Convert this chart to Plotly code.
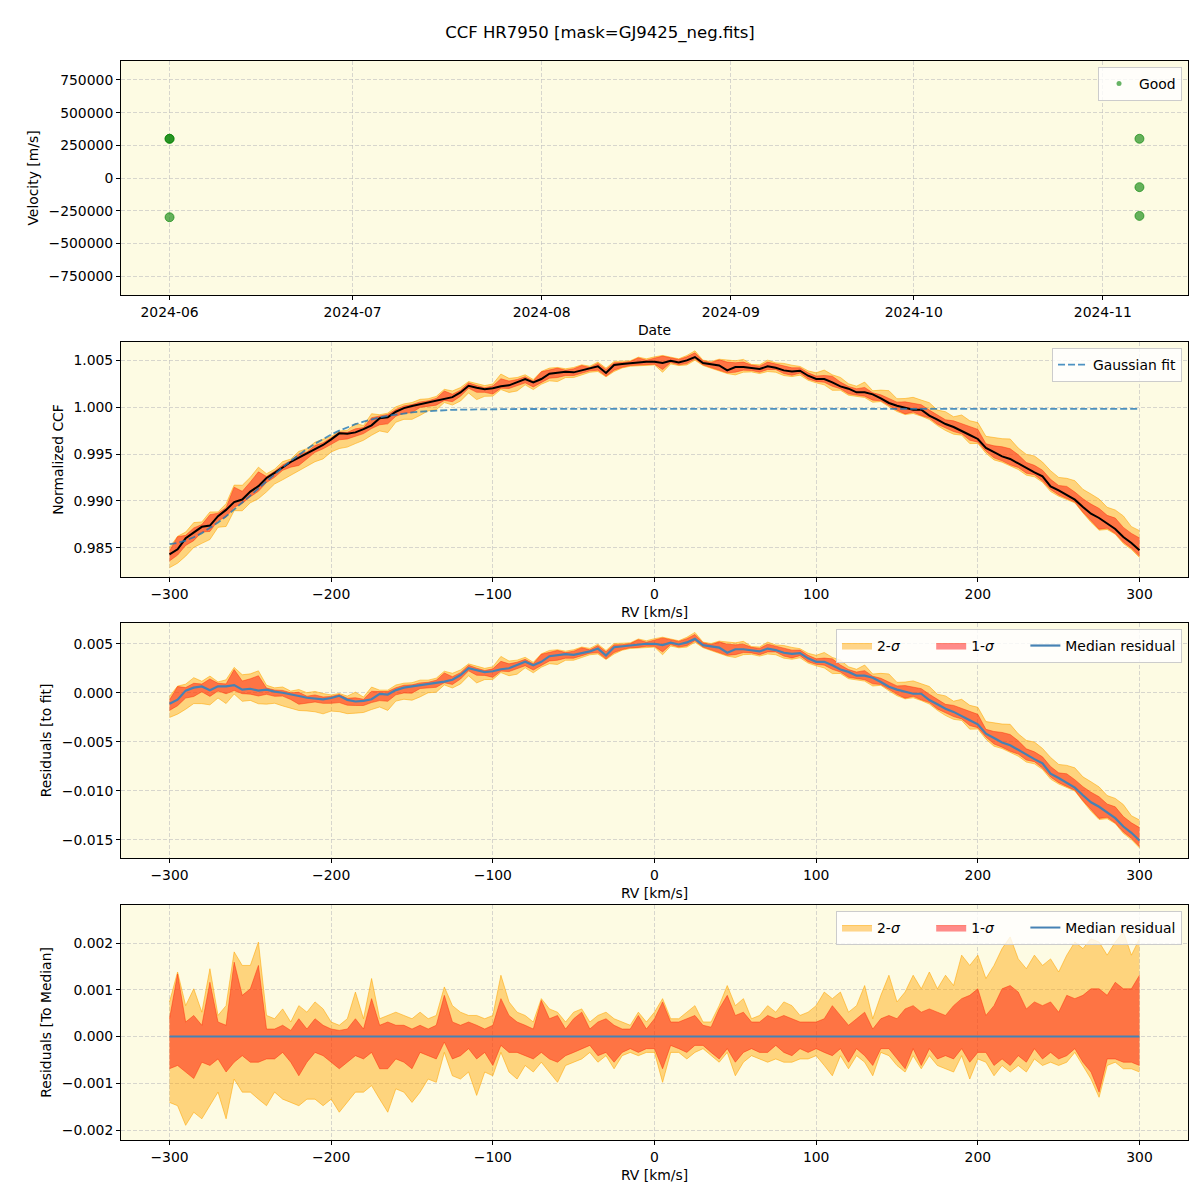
import plotly.graph_objects as go

# ---------------- data ----------------
rv = list(range(-300, 301, 5))

ccf_median = [
    0.98431, 0.98486, 0.98603, 0.98668, 0.98725, 0.98738, 0.98839, 0.98905, 0.98988, 0.99015,
    0.99100, 0.99158, 0.99245, 0.99300, 0.99360, 0.99415, 0.99462, 0.99505, 0.99552, 0.99596,
    0.99656, 0.99720, 0.99715, 0.99730, 0.99765, 0.99805, 0.99880, 0.99890, 0.99950, 0.99988,
    1.00010, 1.00030, 1.00050, 1.00068, 1.00082, 1.00105, 1.00155, 1.00226, 1.00205, 1.00190,
    1.00200, 1.00220, 1.00231, 1.00262, 1.00298, 1.00262, 1.00298, 1.00355, 1.00369, 1.00376,
    1.00369, 1.00390, 1.00404, 1.00433, 1.00362, 1.00447, 1.00457, 1.00468, 1.00479, 1.00482,
    1.00482, 1.00468, 1.00493, 1.00475, 1.00496, 1.00532, 1.00468, 1.00454, 1.00443, 1.00390,
    1.00426, 1.00426, 1.00415, 1.00404, 1.00433, 1.00418, 1.00390, 1.00379, 1.00387, 1.00333,
    1.00298, 1.00298, 1.00262, 1.00220, 1.00195, 1.00156, 1.00156, 1.00135, 1.00092, 1.00043,
    1.00014, 0.99996, 0.99972, 0.99972, 0.99908, 0.99865, 0.99819, 0.99787, 0.99741, 0.99702,
    0.99660, 0.99564, 0.99521, 0.99475, 0.99447, 0.99397, 0.99351, 0.99305, 0.99262, 0.99156,
    0.99113, 0.99067, 0.99014, 0.98936, 0.98865, 0.98819, 0.98759, 0.98702, 0.98617, 0.98553,
    0.98475,
]

gauss_fit = [
    0.98540, 0.98554, 0.98579, 0.98614, 0.98658, 0.98711, 0.98771, 0.98837, 0.98908, 0.98981,
    0.99057, 0.99134, 0.99211, 0.99286, 0.99358, 0.99427, 0.99493, 0.99554, 0.99610, 0.99661,
    0.99707, 0.99749, 0.99785, 0.99817, 0.99845, 0.99869, 0.99889, 0.99906, 0.99921, 0.99933,
    0.99943, 0.99951, 0.99957, 0.99962, 0.99966, 0.99970, 0.99972, 0.99974, 0.99976, 0.99977,
    0.99978, 0.99978, 0.99979, 0.99979, 0.99979, 0.99980, 0.99980, 0.99980, 0.99980, 0.99980,
    0.99980, 0.99980, 0.99980, 0.99980, 0.99980, 0.99980, 0.99980, 0.99980, 0.99980, 0.99980,
    0.99980, 0.99980, 0.99980, 0.99980, 0.99980, 0.99980, 0.99980, 0.99980, 0.99980, 0.99980,
    0.99980, 0.99980, 0.99980, 0.99980, 0.99980, 0.99980, 0.99980, 0.99980, 0.99980, 0.99980,
    0.99980, 0.99980, 0.99980, 0.99980, 0.99980, 0.99980, 0.99980, 0.99980, 0.99980, 0.99980,
    0.99980, 0.99980, 0.99980, 0.99980, 0.99980, 0.99980, 0.99980, 0.99980, 0.99980, 0.99980,
    0.99980, 0.99980, 0.99980, 0.99980, 0.99980, 0.99980, 0.99980, 0.99980, 0.99980, 0.99980,
    0.99980, 0.99980, 0.99980, 0.99980, 0.99980, 0.99980, 0.99980, 0.99980, 0.99980, 0.99980,
    0.99980,
]

# band offsets relative to the median, in units of 1e-3
hi2_off = [
    0.74, 1.38, 0.66, 1.02, 0.52, 1.45, 0.45, 0.66, 1.81, 1.52, 1.52, 2.02, 0.45, 0.38, 0.59, 0.31, 0.66, 0.52, 0.74, 0.59,
    0.31, 0.24, 0.38, 0.95, 0.38, 1.24, 0.38, 0.45, 0.52, 0.45, 0.38, 0.52, 0.38, 0.45, 1.06, 0.66, 0.52, 0.45, 0.45, 0.38,
    0.45, 1.31, 0.74, 0.52, 0.45, 0.31, 0.81, 0.59, 0.52, 0.31, 0.52, 0.59, 0.31, 0.45, 0.52, 0.38, 0.31, 0.24, 0.52, 0.31,
    0.52, 0.81, 0.38, 0.38, 0.52, 0.66, 0.31, 0.31, 0.66, 1.09, 0.66, 0.81, 0.38, 0.45, 0.66, 0.52, 0.74, 0.66, 0.45, 0.52,
    0.66, 0.95, 0.81, 0.95, 0.52, 0.66, 1.09, 0.38, 0.88, 1.31, 0.74, 0.95, 1.31, 1.02, 1.38, 1.02, 1.31, 1.09, 1.74, 1.52,
    1.74, 1.24, 1.52, 1.88, 2.13, 1.66, 1.45, 1.74, 1.52, 1.66, 1.38, 1.74, 2.02, 1.88, 2.09, 2.02, 1.74, 2.02, 2.24, 1.74,
    2.09,
]
hi1_off = [
    0.38, 1.34, 0.31, 0.45, 0.24, 1.16, 0.31, 0.24, 1.59, 0.88, 1.02, 1.52, 0.16, 0.16, 0.24, 0.13, 0.38, 0.16, 0.38, 0.24,
    0.16, 0.13, 0.16, 0.38, 0.16, 0.81, 0.24, 0.31, 0.24, 0.24, 0.16, 0.24, 0.16, 0.24, 0.88, 0.31, 0.24, 0.31, 0.24, 0.16,
    0.24, 0.81, 0.45, 0.31, 0.24, 0.16, 0.77, 0.38, 0.45, 0.16, 0.38, 0.52, 0.16, 0.31, 0.38, 0.24, 0.16, 0.16, 0.45, 0.16,
    0.38, 0.74, 0.31, 0.31, 0.38, 0.45, 0.24, 0.20, 0.59, 0.88, 0.45, 0.52, 0.31, 0.31, 0.45, 0.38, 0.45, 0.38, 0.31, 0.31,
    0.31, 0.38, 0.66, 0.45, 0.24, 0.38, 0.52, 0.16, 0.38, 0.45, 0.38, 0.59, 0.66, 0.52, 0.59, 0.52, 0.45, 0.66, 0.81, 0.88,
    1.02, 0.45, 0.66, 1.02, 1.09, 0.95, 0.59, 0.74, 0.66, 0.74, 0.52, 0.88, 0.81, 0.88, 1.02, 1.02, 0.88, 1.16, 1.02, 1.02,
    1.31,
]
lo1_off = [
    -0.69, -0.62, -0.76, -0.90, -0.55, -0.62, -0.48, -0.76, -0.55, -0.41, -0.55, -0.55, -0.48, -0.48, -0.34, -0.55, -0.84, -0.55, -0.34, -0.41,
    -0.55, -0.69, -0.55, -0.41, -0.48, -0.34, -0.69, -0.69, -0.48, -0.55, -0.69, -0.34, -0.41, -0.48, -0.12, -0.48, -0.41, -0.26, -0.48, -0.34,
    -0.62, -0.19, -0.34, -0.34, -0.41, -0.48, -0.34, -0.48, -0.55, -0.41, -0.34, -0.26, -0.19, -0.41, -0.34, -0.55, -0.34, -0.26, -0.34, -0.26,
    -0.26, -0.69, -0.19, -0.26, -0.34, -0.19, -0.19, -0.34, -0.48, -0.26, -0.55, -0.34, -0.26, -0.34, -0.34, -0.19, -0.34, -0.41, -0.26, -0.34,
    -0.26, -0.34, -0.41, -0.26, -0.55, -0.26, -0.41, -0.62, -0.26, -0.26, -0.48, -0.69, -0.26, -0.62, -0.26, -0.48, -0.41, -0.48, -0.26, -0.55,
    -0.34, -0.34, -0.62, -0.48, -0.62, -0.41, -0.55, -0.26, -0.48, -0.34, -0.48, -0.41, -0.26, -0.55, -0.76, -1.19, -0.48, -0.48, -0.55, -0.55,
    -0.62,
]
lo2_off = [
    -1.41, -1.48, -1.90, -1.62, -1.76, -1.48, -1.19, -1.76, -0.91, -1.19, -1.19, -1.34, -1.48, -1.19, -1.34, -1.41, -1.48, -1.34, -1.34, -1.48,
    -1.34, -1.62, -1.41, -1.19, -1.19, -1.05, -1.34, -1.62, -1.12, -1.19, -1.41, -1.19, -0.91, -0.98, -0.34, -0.84, -0.91, -0.76, -1.26, -0.76,
    -0.84, -0.34, -0.76, -0.91, -0.62, -0.76, -0.55, -0.76, -0.98, -0.62, -0.55, -0.48, -0.34, -0.55, -0.41, -0.69, -0.41, -0.34, -0.41, -0.34,
    -0.34, -0.98, -0.34, -0.34, -0.48, -0.34, -0.26, -0.41, -0.55, -0.34, -0.84, -0.55, -0.41, -0.48, -0.55, -0.48, -0.55, -0.55, -0.48, -0.48,
    -0.41, -0.62, -0.84, -0.41, -0.69, -0.41, -0.55, -0.84, -0.34, -0.41, -0.62, -0.76, -0.41, -0.69, -0.41, -0.62, -0.69, -0.76, -0.41, -0.91,
    -0.48, -0.55, -0.84, -0.62, -0.76, -0.62, -0.76, -0.48, -0.62, -0.55, -0.62, -0.55, -0.34, -0.62, -0.91, -1.30, -0.62, -0.55, -0.69, -0.69,
    -0.76,
]

obs_dates = ["2024-06-01", "2024-06-01", "2024-06-01", "2024-11-07", "2024-11-07", "2024-11-07"]
obs_velocity = [300000, 300000, -300000, 300000, -70000, -290000]

# ---------------- derived ----------------
resid_median = [c - g for c, g in zip(ccf_median, gauss_fit)]
zero_line = [0.0 for _ in rv]


def band(base, off):
    return [b + o * 1e-3 for b, o in zip(base, off)]


# ---------------- styling ----------------
FONT = "DejaVu Sans"
FS = 13.9
BG = "#fdfbe3"
GRID = "rgba(190,190,190,0.6)"
ORANGE_FILL = "rgba(255,165,0,0.45)"
ORANGE_LINE = "rgba(255,165,0,0.55)"
RED_FILL = "rgba(255,0,0,0.45)"
RED_LINE = "rgba(255,40,0,0.45)"
MED_BLUE = "#4682b4"
PAD = "\u00a0" * 6

fig = go.Figure()

# Panel 1: velocity vs date
fig.add_trace(go.Scatter(
    x=obs_dates, y=obs_velocity, mode="markers", showlegend=False,
    marker=dict(size=9, color="rgba(0,128,0,0.6)", line=dict(width=1, color="rgba(0,128,0,0.6)")),
    xaxis="x", yaxis="y"))
fig.add_trace(go.Scatter(
    x=[None], y=[None], mode="markers", name="Good", legend="legend",
    marker=dict(size=5, color="rgba(0,128,0,0.6)"), xaxis="x", yaxis="y"))


def add_bands(base, xa, ya, legend_name, show):
    lo2 = band(base, lo2_off)
    hi2 = band(base, hi2_off)
    lo1 = band(base, lo1_off)
    hi1 = band(base, hi1_off)
    fig.add_trace(go.Scatter(x=rv, y=lo2, mode="lines", line=dict(color=ORANGE_LINE, width=1),
                             showlegend=False, hoverinfo="skip", xaxis=xa, yaxis=ya))
    fig.add_trace(go.Scatter(x=rv, y=hi2, mode="lines", fill="tonexty", fillcolor=ORANGE_FILL,
                             line=dict(color=ORANGE_LINE, width=1), name="2-<i>σ</i>" + PAD,
                             showlegend=show, legend=legend_name, xaxis=xa, yaxis=ya))
    fig.add_trace(go.Scatter(x=rv, y=lo1, mode="lines", line=dict(color=RED_LINE, width=1),
                             showlegend=False, hoverinfo="skip", xaxis=xa, yaxis=ya))
    fig.add_trace(go.Scatter(x=rv, y=hi1, mode="lines", fill="tonexty", fillcolor=RED_FILL,
                             line=dict(color=RED_LINE, width=1), name="1-<i>σ</i>" + PAD,
                             showlegend=show, legend=legend_name, xaxis=xa, yaxis=ya))


# Panel 2: CCF
add_bands(ccf_median, "x2", "y2", "legend2", False)
fig.add_trace(go.Scatter(x=rv, y=ccf_median, mode="lines", line=dict(color="black", width=2),
                         showlegend=False, xaxis="x2", yaxis="y2"))
fig.add_trace(go.Scatter(x=rv, y=gauss_fit, mode="lines", name="Gaussian fit", legend="legend2",
                         line=dict(color="rgba(31,119,180,0.8)", width=1.8, dash="7px,3px"),
                         xaxis="x2", yaxis="y2"))

# Panel 3: residuals to fit
add_bands(resid_median, "x3", "y3", "legend3", True)
fig.add_trace(go.Scatter(x=rv, y=resid_median, mode="lines", name="Median residual", legend="legend3",
                         line=dict(color=MED_BLUE, width=2.2), xaxis="x3", yaxis="y3"))

# Panel 4: residuals to median
add_bands(zero_line, "x4", "y4", "legend4", True)
fig.add_trace(go.Scatter(x=rv, y=zero_line, mode="lines", name="Median residual", legend="legend4",
                         line=dict(color=MED_BLUE, width=2), xaxis="x4", yaxis="y4"))


# ---------------- layout ----------------
def ax(**kw):
    base = dict(showline=True, mirror=True, linecolor="black", linewidth=1,
                ticks="outside", ticklen=4, tickcolor="black", tickwidth=1,
                showgrid=True, gridcolor=GRID, griddash="4px,2px", gridwidth=0.8,
                zeroline=False, tickfont=dict(family=FONT, size=FS, color="black"),
                title_font=dict(family=FONT, size=FS, color="black"))
    base.update(kw)
    return base


H = 1079.0


def dom(top, bottom):
    return [1 - (bottom - 61) / H, 1 - (top - 61) / H]


legend_common = dict(bgcolor="rgba(255,255,255,0.8)", bordercolor="#cccccc", borderwidth=1,
                     font=dict(family=FONT, size=FS, color="black"), traceorder="normal",
                     xref="paper", yref="paper", xanchor="right", yanchor="top")

fig.update_layout(
    width=1200, height=1200,
    margin=dict(l=121, r=12, t=61, b=60),
    paper_bgcolor="white", plot_bgcolor=BG,
    font=dict(family=FONT, size=FS, color="black"),
    title=dict(text="CCF HR7950 [mask=GJ9425_neg.fits]", x=0.5, xanchor="center",
               y=1 - 32 / 1200, yanchor="middle", font=dict(family=FONT, size=16.5, color="black")),
    xaxis=ax(domain=[0, 1], anchor="y", type="date",
             range=["2024-05-24 01:00", "2024-11-14 23:00"],
             tick0="2024-06-01", dtick="M1", tickformat="%Y-%m",
             title=dict(text="Date", standoff=6)),
    yaxis=ax(domain=dom(61, 295), anchor="x", range=[-895000, 895000],
             tickvals=[-750000, -500000, -250000, 0, 250000, 500000, 750000],
             tickformat="d", title=dict(text="Velocity [m/s]", standoff=6)),
    xaxis2=ax(domain=[0, 1], anchor="y2", range=[-330, 330], dtick=100,
              title=dict(text="RV [km/s]", standoff=6)),
    yaxis2=ax(domain=dom(342, 577), anchor="x2", range=[0.98191, 1.00692], dtick=0.005,
              tickformat=".3f", title=dict(text="Normalized CCF", standoff=6)),
    xaxis3=ax(domain=[0, 1], anchor="y3", range=[-330, 330], dtick=100,
              title=dict(text="RV [km/s]", standoff=6)),
    yaxis3=ax(domain=dom(623, 858), anchor="x3", range=[-0.01684, 0.00714], dtick=0.005,
              tickformat=".3f", title=dict(text="Residuals [to fit]", standoff=6)),
    xaxis4=ax(domain=[0, 1], anchor="y4", range=[-330, 330], dtick=100,
              title=dict(text="RV [km/s]", standoff=6)),
    yaxis4=ax(domain=dom(905, 1140), anchor="x4", range=[-0.002214, 0.002813], dtick=0.001,
              tickformat=".3f", title=dict(text="Residuals [To Median]", standoff=6)),
    legend=dict(legend_common, x=0.9944, y=0.9944),
    legend2=dict(legend_common, x=0.9944, y=1 - (348 - 61) / H),
    legend3=dict(legend_common, x=0.9944, y=1 - (629 - 61) / H, orientation="h"),
    legend4=dict(legend_common, x=0.9944, y=1 - (911 - 61) / H, orientation="h"),
)

fig.write_html("out.html")
